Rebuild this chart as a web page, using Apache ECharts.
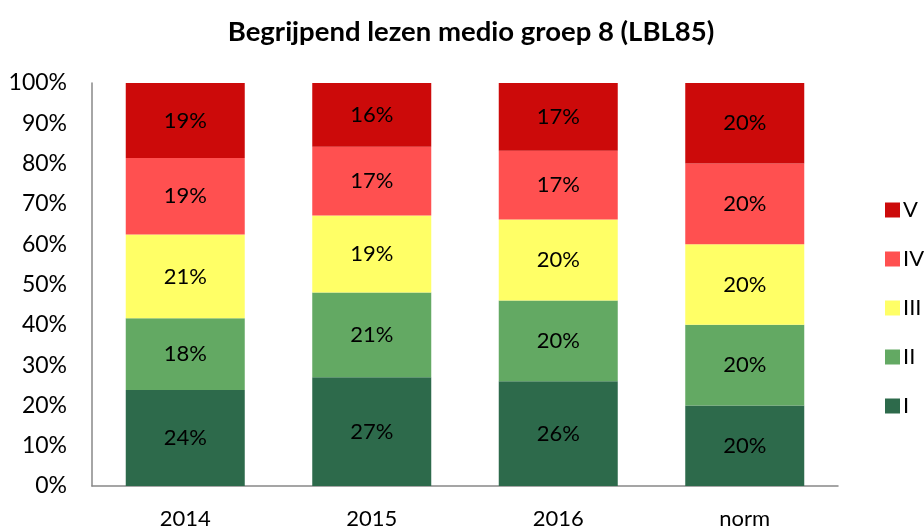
<!DOCTYPE html>
<html>
<head>
<meta charset="utf-8">
<script src="https://cdn.jsdelivr.net/npm/echarts@6/dist/echarts.min.js"></script>
<style>
  html, body { margin: 0; padding: 0; background: #fff; }
  #chart { width: 924px; height: 532px; }
</style>
</head>
<body>
<div id="chart"></div>
<script>
const categories = ['2014', '2015', '2016', 'norm'];
const levelNames = ['I', 'II', 'III', 'IV', 'V'];
// share per level (%)
const valI   = [23.8, 27.0, 26.0, 20];
const valII  = [17.8, 21.0, 20.0, 20];
const valIII = [20.8, 19.1, 20.1, 20];
const valIV  = [19.0, 17.1, 17.1, 20];
const valV   = [18.6, 15.8, 16.8, 20];
const colors = ['#2d6a4b', '#63a963', '#ffff66', '#ff5050', '#cc0a0a'];

const font = 'Lato, "Open Sans", sans-serif';
const allValues = [valI, valII, valIII, valIV, valV];

const series = levelNames.map((name, i) => ({
    name: name,
    type: 'bar',
    stack: 'total',
    barWidth: 119,
    data: allValues[i],
    itemStyle: { color: colors[i] },
    label: {
        show: true,
        position: 'inside',
        color: '#000',
        fontFamily: font,
        fontSize: 22,
        formatter: p => Math.round(p.value) + '%'
    }
}));

const chart = echarts.init(document.getElementById('chart'));
chart.setOption({
    animation: false,
    title: {
        text: 'Begrijpend lezen medio groep 8 (LBL85)',
        left: 466,
        textAlign: 'center',
        top: 13,
        textStyle: { fontFamily: font, fontSize: 27.5, fontWeight: 'bold', color: '#000' }
    },
    legend: {
        orient: 'vertical',
        left: 880,
        top: 194,
        itemWidth: 15,
        itemHeight: 15,
        itemGap: 27,
        icon: 'rect',
        data: ['V', 'IV', 'III', 'II', 'I'],
        textStyle: { fontFamily: font, fontSize: 22, color: '#000', lineHeight: 20, padding: [0, 0, 0, -2] }
    },
    grid: { left: 92, right: 86, top: 83, bottom: 46 },
    xAxis: {
        type: 'category',
        data: categories,
        axisLine: { lineStyle: { color: '#888', width: 1.5 } },
        axisTick: { show: false },
        axisLabel: { color: '#000', fontFamily: font, fontSize: 22, margin: 22 }
    },
    yAxis: {
        type: 'value',
        min: 0,
        max: 100,
        interval: 10,
        axisLine: { show: true, lineStyle: { color: '#888', width: 1.5 } },
        axisTick: { show: false },
        splitLine: { show: false },
        axisLabel: { color: '#000', fontFamily: font, fontSize: 23, margin: 25, formatter: '{value}%' }
    },
    series: series
});
</script>
</body>
</html>
